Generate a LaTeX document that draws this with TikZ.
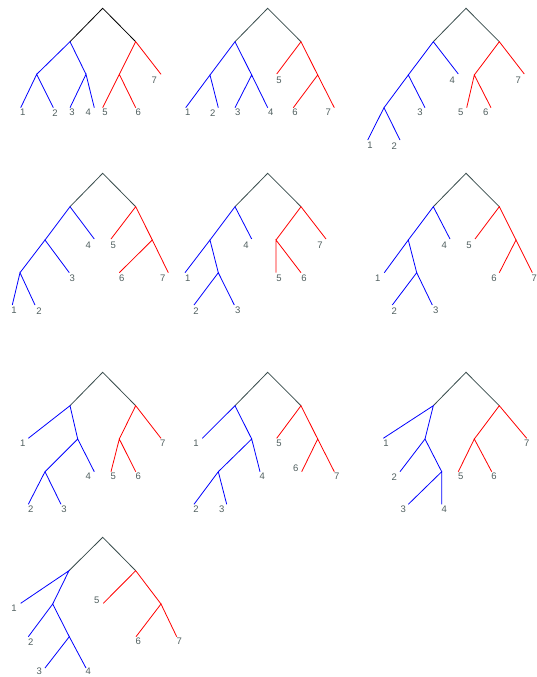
\documentclass[tikz,border=0pt]{standalone}
\usepackage{fontspec}
\setmainfont{Liberation Sans}
\definecolor{slate}{RGB}{55,75,75}
\definecolor{labc}{RGB}{80,95,95}
\begin{document}
\begin{tikzpicture}[x=1pt,y=-1pt,
  bl/.style={draw=blue,line width=0.8pt},
  rd/.style={draw=red,line width=0.8pt},
  rt/.style={draw=slate,line width=0.8pt},
  rtk/.style={draw=black,line width=0.8pt},
  lab/.style={inner sep=0pt,text=labc,font=\fontsize{9.5}{10}\selectfont}]
\useasboundingbox (0,0) rectangle (537,677);
% ---------- Tree 1
\coordinate (t1r) at (102.7,8.3);
\coordinate (t1a) at (70,41.7); \coordinate (t1b) at (135.7,41.7);
\coordinate (t1c) at (36.7,74.3); \coordinate (t1d) at (86,74.3);
\coordinate (t1e) at (119.3,74.3); \coordinate (t1l7) at (161,74.3);
\coordinate (t1l1) at (20.7,107.7); \coordinate (t1l2) at (53.3,107.7);
\coordinate (t1l3) at (70,107.7); \coordinate (t1l4) at (94.3,107.7);
\coordinate (t1l5) at (102.7,107.7); \coordinate (t1l6) at (135.7,107.7);
\draw[rtk] (t1a) -- (t1r) -- (t1b);
\draw[bl] (t1c) -- (t1a) -- (t1d);
\draw[bl] (t1l1) -- (t1c) -- (t1l2);
\draw[bl] (t1l3) -- (t1d) -- (t1l4);
\draw[rd] (t1e) -- (t1b) -- (t1l7);
\draw[rd] (t1l5) -- (t1e) -- (t1l6);
\node[lab] (t1n1) at (22.7,112.7) {1};
\node[lab] (t1n2) at (55,112.7) {2};
\node[lab] (t1n3) at (72,112.7) {3};
\node[lab] (t1n4) at (88.3,112.7) {4};
\node[lab] (t1n5) at (105,112.7) {5};
\node[lab] (t1n6) at (138.3,112.7) {6};
\node[lab] (t1n7) at (154.3,80) {7};
% ---------- Tree 2
\coordinate (t2r) at (267.7,8.3);
\coordinate (t2a) at (235,41.7); \coordinate (t2b) at (301,41.7);
\coordinate (t2c) at (210,75); \coordinate (t2d) at (251.7,75);
\coordinate (t2l5) at (276.7,74); \coordinate (t2e) at (317.7,75);
\coordinate (t2l1) at (185.7,107.7); \coordinate (t2l2) at (218.3,107.7);
\coordinate (t2l3) at (235,107.7); \coordinate (t2l4) at (267.7,107.7);
\coordinate (t2l6) at (293.3,107.7); \coordinate (t2l7) at (334.3,107.7);
\draw[rt] (t2a) -- (t2r) -- (t2b);
\draw[bl] (t2c) -- (t2a) -- (t2d);
\draw[bl] (t2l1) -- (t2c) -- (t2l2);
\draw[bl] (t2l3) -- (t2d) -- (t2l4);
\draw[rd] (t2l5) -- (t2b) -- (t2e);
\draw[rd] (t2l6) -- (t2e) -- (t2l7);
\node[lab] (t2n1) at (187.7,112.7) {1};
\node[lab] (t2n2) at (212.7,112.7) {2};
\node[lab] (t2n3) at (237.7,112.7) {3};
\node[lab] (t2n4) at (270.7,112.7) {4};
\node[lab] (t2n5) at (279,80) {5};
\node[lab] (t2n6) at (295,112.7) {6};
\node[lab] (t2n7) at (328.3,112.7) {7};
% ---------- Tree 3
\coordinate (t3r) at (466,8.3);
\coordinate (t3a) at (433.3,41.7); \coordinate (t3b) at (499.3,41.7);
\coordinate (t3c) at (408.3,75); \coordinate (t3l4) at (458.3,74);
\coordinate (t3d) at (474.3,75); \coordinate (t3l7) at (524.3,74);
\coordinate (t3e) at (384,107.7); \coordinate (t3l3) at (425,107.7);
\coordinate (t3l5) at (466.7,107.7); \coordinate (t3l6) at (491,107.7);
\coordinate (t3l1) at (367.7,140); \coordinate (t3l2) at (400,140);
\draw[rt] (t3a) -- (t3r) -- (t3b);
\draw[bl] (t3c) -- (t3a) -- (t3l4);
\draw[bl] (t3e) -- (t3c) -- (t3l3);
\draw[bl] (t3l1) -- (t3e) -- (t3l2);
\draw[rd] (t3d) -- (t3b) -- (t3l7);
\draw[rd] (t3l5) -- (t3d) -- (t3l6);
\node[lab] (t3n1) at (370,145.7) {1};
\node[lab] (t3n2) at (394.3,145.7) {2};
\node[lab] (t3n3) at (420,112.7) {3};
\node[lab] (t3n4) at (452.3,80) {4};
\node[lab] (t3n5) at (460.7,112.7) {5};
\node[lab] (t3n6) at (485.7,112.7) {6};
\node[lab] (t3n7) at (518.3,80) {7};
% ---------- Tree 4
\coordinate (t4r) at (102.7,173.3);
\coordinate (t4a) at (70,206.7); \coordinate (t4b) at (135.7,206.7);
\coordinate (t4c) at (45,240); \coordinate (t4l4) at (94.3,239);
\coordinate (t4l5) at (111,239); \coordinate (t4d) at (152.3,240);
\coordinate (t4e) at (20,272.7); \coordinate (t4l3) at (69.3,272.7);
\coordinate (t4l6) at (119.3,272.7); \coordinate (t4l7) at (168.3,272.7);
\coordinate (t4l1) at (12.3,305); \coordinate (t4l2) at (35,305);
\draw[rt] (t4a) -- (t4r) -- (t4b);
\draw[bl] (t4c) -- (t4a) -- (t4l4);
\draw[bl] (t4e) -- (t4c) -- (t4l3);
\draw[bl] (t4l1) -- (t4e) -- (t4l2);
\draw[rd] (t4l5) -- (t4b) -- (t4d);
\draw[rd] (t4l6) -- (t4d) -- (t4l7);
\node[lab] (t4n1) at (14,310.7) {1};
\node[lab] (t4n2) at (39,310.7) {2};
\node[lab] (t4n3) at (72.3,278.3) {3};
\node[lab] (t4n4) at (88.3,245) {4};
\node[lab] (t4n5) at (113.3,245) {5};
\node[lab] (t4n6) at (121.7,278.3) {6};
\node[lab] (t4n7) at (162.7,278.3) {7};
% ---------- Tree 5
\coordinate (t5r) at (267.7,173.3);
\coordinate (t5a) at (235,206.7); \coordinate (t5b) at (301,206.7);
\coordinate (t5c) at (210,240); \coordinate (t5l4) at (251.7,239);
\coordinate (t5d) at (276,240); \coordinate (t5l7) at (326,239);
\coordinate (t5l1) at (185,272.7); \coordinate (t5e) at (218.3,272.7);
\coordinate (t5l5) at (276,272.7); \coordinate (t5l6) at (301,272.7);
\coordinate (t5l2) at (194,305); \coordinate (t5l3) at (234.3,305);
\draw[rt] (t5a) -- (t5r) -- (t5b);
\draw[bl] (t5c) -- (t5a) -- (t5l4);
\draw[bl] (t5l1) -- (t5c) -- (t5e);
\draw[bl] (t5l2) -- (t5e) -- (t5l3);
\draw[rd] (t5d) -- (t5b) -- (t5l7);
\draw[rd] (t5l5) -- (t5d) -- (t5l6);
\node[lab] (t5n1) at (187.7,278.3) {1};
\node[lab] (t5n2) at (196,310.7) {2};
\node[lab] (t5n3) at (237.7,310.7) {3};
\node[lab] (t5n4) at (246,245) {4};
\node[lab] (t5n5) at (279,278.3) {5};
\node[lab] (t5n6) at (304,278.3) {6};
\node[lab] (t5n7) at (320,245) {7};
% ---------- Tree 6
\coordinate (t6r) at (466,173.3);
\coordinate (t6a) at (433.3,206.7); \coordinate (t6b) at (499.3,206.7);
\coordinate (t6c) at (408.3,240); \coordinate (t6l4) at (450,239);
\coordinate (t6l5) at (475,239); \coordinate (t6d) at (516,240);
\coordinate (t6l1) at (384.3,272.7); \coordinate (t6e) at (416.7,272.7);
\coordinate (t6l6) at (499.3,272.7); \coordinate (t6l7) at (532.3,272.7);
\coordinate (t6l2) at (392.3,305); \coordinate (t6l3) at (432.3,305);
\draw[rt] (t6a) -- (t6r) -- (t6b);
\draw[bl] (t6c) -- (t6a) -- (t6l4);
\draw[bl] (t6l1) -- (t6c) -- (t6e);
\draw[bl] (t6l2) -- (t6e) -- (t6l3);
\draw[rd] (t6l5) -- (t6b) -- (t6d);
\draw[rd] (t6l6) -- (t6d) -- (t6l7);
\node[lab] (t6n1) at (377.7,278.3) {1};
\node[lab] (t6n2) at (394.3,310.7) {2};
\node[lab] (t6n3) at (435.7,310.7) {3};
\node[lab] (t6n4) at (444.3,245) {4};
\node[lab] (t6n5) at (469,245) {5};
\node[lab] (t6n6) at (494,278.3) {6};
\node[lab] (t6n7) at (534.3,278.3) {7};
% ---------- Tree 7
\coordinate (t7r) at (102.7,372.3);
\coordinate (t7a) at (70,405.7); \coordinate (t7b) at (135.7,405.7);
\coordinate (t7l1) at (28.3,438.3); \coordinate (t7c) at (77.7,439);
\coordinate (t7d) at (119.3,439); \coordinate (t7l7) at (161,438.3);
\coordinate (t7e) at (45,471.7); \coordinate (t7l4) at (94.3,471.7);
\coordinate (t7l5) at (111,471.7); \coordinate (t7l6) at (135.7,471.7);
\coordinate (t7l2) at (28.3,504.3); \coordinate (t7l3) at (61,504.3);
\draw[rt] (t7a) -- (t7r) -- (t7b);
\draw[bl] (t7l1) -- (t7a) -- (t7c);
\draw[bl] (t7e) -- (t7c) -- (t7l4);
\draw[bl] (t7l2) -- (t7e) -- (t7l3);
\draw[rd] (t7d) -- (t7b) -- (t7l7);
\draw[rd] (t7l5) -- (t7d) -- (t7l6);
\node[lab] (t7n1) at (22.7,443.3) {1};
\node[lab] (t7n2) at (30.7,509.3) {2};
\node[lab] (t7n3) at (64,509.3) {3};
\node[lab] (t7n4) at (88.3,476.7) {4};
\node[lab] (t7n5) at (113.3,476.7) {5};
\node[lab] (t7n6) at (138.3,476.7) {6};
\node[lab] (t7n7) at (162.7,443.3) {7};
% ---------- Tree 8
\coordinate (t8r) at (267.7,372.3);
\coordinate (t8a) at (235,405.7); \coordinate (t8b) at (301,405.7);
\coordinate (t8l1) at (202.3,438.3); \coordinate (t8c) at (251.7,439);
\coordinate (t8l5) at (276.7,438.3); \coordinate (t8d) at (317.7,439);
\coordinate (t8e) at (218.3,471.7); \coordinate (t8l4) at (260,471.7);
\coordinate (t8l6) at (301.7,471.7); \coordinate (t8l7) at (334.3,471.7);
\coordinate (t8l2) at (194,504.3); \coordinate (t8l3) at (226.7,504.3);
\draw[rt] (t8a) -- (t8r) -- (t8b);
\draw[bl] (t8l1) -- (t8a) -- (t8c);
\draw[bl] (t8e) -- (t8c) -- (t8l4);
\draw[bl] (t8l2) -- (t8e) -- (t8l3);
\draw[rd] (t8l5) -- (t8b) -- (t8d);
\draw[rd] (t8l6) -- (t8d) -- (t8l7);
\node[lab] (t8n1) at (196,443.3) {1};
\node[lab] (t8n2) at (196,509.3) {2};
\node[lab] (t8n3) at (221.7,509.3) {3};
\node[lab] (t8n4) at (262.3,476.7) {4};
\node[lab] (t8n5) at (279,443.3) {5};
\node[lab] (t8n6) at (295.7,468.3) {6};
\node[lab] (t8n7) at (336.7,476.7) {7};
% ---------- Tree 9
\coordinate (t9r) at (466,372.3);
\coordinate (t9a) at (433.3,405.7); \coordinate (t9b) at (499.3,405.7);
\coordinate (t9l1) at (383.3,438.3); \coordinate (t9c) at (425,439);
\coordinate (t9d) at (474.3,439); \coordinate (t9l7) at (526.7,438.3);
\coordinate (t9l2) at (400,471.7); \coordinate (t9e) at (441.7,471.7);
\coordinate (t9l5) at (458.3,471.7); \coordinate (t9l6) at (491.7,471.7);
\coordinate (t9l3) at (408.3,504.3); \coordinate (t9l4) at (441.7,504.3);
\draw[rt] (t9a) -- (t9r) -- (t9b);
\draw[bl] (t9l1) -- (t9a) -- (t9c);
\draw[bl] (t9l2) -- (t9c) -- (t9e);
\draw[bl] (t9l3) -- (t9e) -- (t9l4);
\draw[rd] (t9d) -- (t9b) -- (t9l7);
\draw[rd] (t9l5) -- (t9d) -- (t9l6);
\node[lab] (t9n1) at (386,443.3) {1};
\node[lab] (t9n2) at (394.3,476.7) {2};
\node[lab] (t9n3) at (403.3,509.3) {3};
\node[lab] (t9n4) at (444.3,509.3) {4};
\node[lab] (t9n5) at (460.7,476.7) {5};
\node[lab] (t9n6) at (494,476.7) {6};
\node[lab] (t9n7) at (526.7,443.3) {7};
% ---------- Tree 10
\coordinate (u0r) at (102.7,537.3);
\coordinate (u0a) at (69,570.7); \coordinate (u0b) at (135.7,570.7);
\coordinate (u0l1) at (20.7,603.3); \coordinate (u0c) at (52.7,604);
\coordinate (u0l5) at (103.3,603.3); \coordinate (u0d) at (161,604);
\coordinate (u0l2) at (28.3,636.7); \coordinate (u0e) at (69.3,636.7);
\coordinate (u0l6) at (136,636.7); \coordinate (u0l7) at (176.7,636.7);
\coordinate (u0l3) at (45,668); \coordinate (u0l4) at (86,668);
\draw[rt] (u0a) -- (u0r) -- (u0b);
\draw[bl] (u0l1) -- (u0a) -- (u0c);
\draw[bl] (u0l2) -- (u0c) -- (u0e);
\draw[bl] (u0l3) -- (u0e) -- (u0l4);
\draw[rd] (u0l5) -- (u0b) -- (u0d);
\draw[rd] (u0l6) -- (u0d) -- (u0l7);
\node[lab] (u0n1) at (14,608.3) {1};
\node[lab] (u0n2) at (30.7,641.7) {2};
\node[lab] (u0n3) at (39.3,671.5) {3};
\node[lab] (u0n4) at (88.3,671.5) {4};
\node[lab] (u0n5) at (96.7,600) {5};
\node[lab] (u0n6) at (138.3,641.7) {6};
\node[lab] (u0n7) at (179.3,641.7) {7};
\end{tikzpicture}
\end{document}
